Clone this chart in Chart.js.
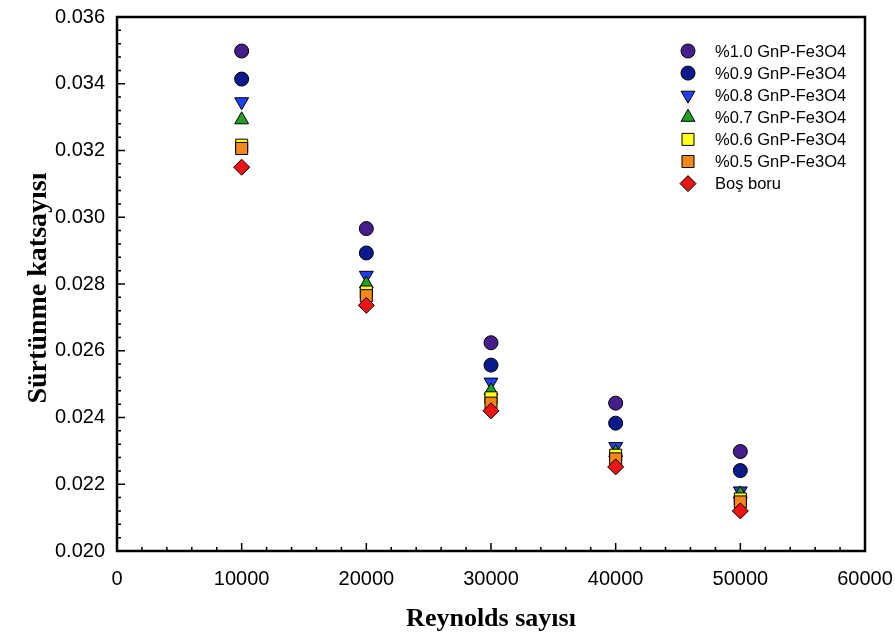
<!DOCTYPE html>
<html>
<head>
<meta charset="utf-8">
<script src="https://cdn.jsdelivr.net/npm/chart.js@4"></script>
<style>
  html, body { margin: 0; padding: 0; background: #fff; }
  #wrap { width: 895px; height: 633px; }
</style>
</head>
<body>
<div id="wrap"><canvas id="myChart" width="895" height="633"></canvas></div>
<script>
'use strict';

const reynolds = [10000, 20000, 30000, 40000, 50000];
const seriesNames = ['%1.0 GnP-Fe3O4', '%0.9 GnP-Fe3O4', '%0.8 GnP-Fe3O4', '%0.7 GnP-Fe3O4', '%0.6 GnP-Fe3O4', '%0.5 GnP-Fe3O4', 'Boş boru'];
const gnp10 = [0.03498, 0.02966, 0.02624, 0.02443, 0.02298];
const gnp09 = [0.03414, 0.02893, 0.02557, 0.02383, 0.02241];
const gnp08 = [0.03346, 0.02826, 0.02506, 0.02313, 0.02180];
const gnp07 = [0.03292, 0.02800, 0.02480, 0.02295, 0.02171];
const gnp06 = [0.03216, 0.02776, 0.02459, 0.02287, 0.02156];
const gnp05 = [0.03206, 0.02765, 0.02443, 0.02276, 0.02147];
const bosBoru = [0.03150, 0.02736, 0.02420, 0.02252, 0.02120];

const seriesValues = [gnp10, gnp09, gnp08, gnp07, gnp06, gnp05, bosBoru];
const colors = ['#461e8c', '#0a1a8c', '#1f3ff5', '#22a022', '#ffff1a', '#f7861b', '#ee1414'];
const styles = ['circle', 'circle', 'triangle', 'triangle', 'rect', 'rect', 'rectRot'];
const rotations = [0, 0, 180, 0, 0, 0, 0];
const radii = [7, 7, 8, 8, 8.5, 8.5, 8];

const datasets = seriesValues.map((vals, i) => ({
    label: seriesNames[i],
    data: vals.map((v, j) => ({ x: reynolds[j], y: v })),
    backgroundColor: colors[i],
    borderColor: '#000',
    borderWidth: 1,
    pointStyle: styles[i],
    rotation: rotations[i],
    pointRadius: radii[i],
    pointHoverRadius: radii[i],
    order: seriesValues.length - i
}));

// box, inward ticks, legend and axis titles
const decor = {
    id: 'decor',
    afterDraw(chart) {
        const ctx = chart.ctx;
        const a = chart.chartArea;
        const xs = chart.scales.x, ys = chart.scales.y;
        ctx.save();
        ctx.strokeStyle = '#000';
        ctx.lineWidth = 1.5;
        ctx.beginPath();
        for (let v = 0; v <= 60000; v += 2000) {
            const px = xs.getPixelForValue(v);
            const len = v % 10000 === 0 ? 8 : 4;
            ctx.moveTo(px, a.bottom);
            ctx.lineTo(px, a.bottom - len);
        }
        for (let k = 0; k <= 40; k++) {
            const v = 0.020 + k * 0.0004;
            const py = ys.getPixelForValue(v);
            const len = k % 5 === 0 ? 8 : 4;
            ctx.moveTo(a.left, py);
            ctx.lineTo(a.left + len, py);
        }
        ctx.stroke();
        ctx.lineWidth = 2.5;
        ctx.strokeRect(a.left, a.top, a.right - a.left, a.bottom - a.top);

        // legend
        ctx.font = '16.5px "Liberation Sans", Arial, sans-serif';
        ctx.textBaseline = 'middle';
        ctx.textAlign = 'left';
        seriesNames.forEach((name, i) => {
            const y = 51 + i * 22.1;
            ctx.fillStyle = colors[i];
            ctx.strokeStyle = '#000';
            ctx.lineWidth = 1;
            Chart.helpers.drawPoint(ctx, {
                pointStyle: styles[i], rotation: rotations[i],
                radius: radii[i], borderWidth: 1
            }, 688, y);
            ctx.fillStyle = '#000';
            ctx.fillText(name, 715, y + 1);
        });

        // axis titles
        ctx.fillStyle = '#000';
        ctx.textAlign = 'center';
        ctx.textBaseline = 'middle';
        ctx.font = 'bold 26px "Liberation Serif", "Times New Roman", serif';
        ctx.fillText('Reynolds sayısı', 491, 619);
        ctx.font = 'bold 28px "Liberation Serif", "Times New Roman", serif';
        ctx.translate(39, 288);
        ctx.rotate(-Math.PI / 2);
        ctx.fillText('Sürtünme katsayısı', 0, 0);
        ctx.restore();
    }
};

const tickFont = { family: '"Liberation Sans", Arial, sans-serif', size: 20 };

const ctx = document.getElementById('myChart').getContext('2d');
const myChart = new Chart(ctx, {
    type: 'scatter',
    data: { datasets: datasets },
    options: {
        responsive: false,
        animation: false,
        layout: { padding: { top: 17, right: 30, left: 0, bottom: 0 } },
        plugins: {
            legend: { display: false },
            tooltip: { enabled: false }
        },
        scales: {
            x: {
                type: 'linear',
                min: 0,
                max: 60000,
                afterFit(scale) {
                    scale.height = 82;
                    scale.paddingLeft = 0;
                    scale.paddingRight = 0;
                },
                grid: { display: false, drawTicks: false },
                border: { display: false },
                ticks: {
                    stepSize: 10000,
                    padding: 16,
                    color: '#000',
                    font: tickFont,
                    callback: v => String(v)
                }
            },
            y: {
                type: 'linear',
                min: 0.020,
                max: 0.036,
                afterFit(scale) {
                    scale.width = 117;
                    scale.paddingTop = 0;
                    scale.paddingBottom = 0;
                },
                grid: { display: false, drawTicks: false },
                border: { display: false },
                ticks: {
                    stepSize: 0.002,
                    padding: 12,
                    color: '#000',
                    font: tickFont,
                    callback: v => v.toFixed(3)
                }
            }
        }
    },
    plugins: [decor]
});
</script>
</body>
</html>
